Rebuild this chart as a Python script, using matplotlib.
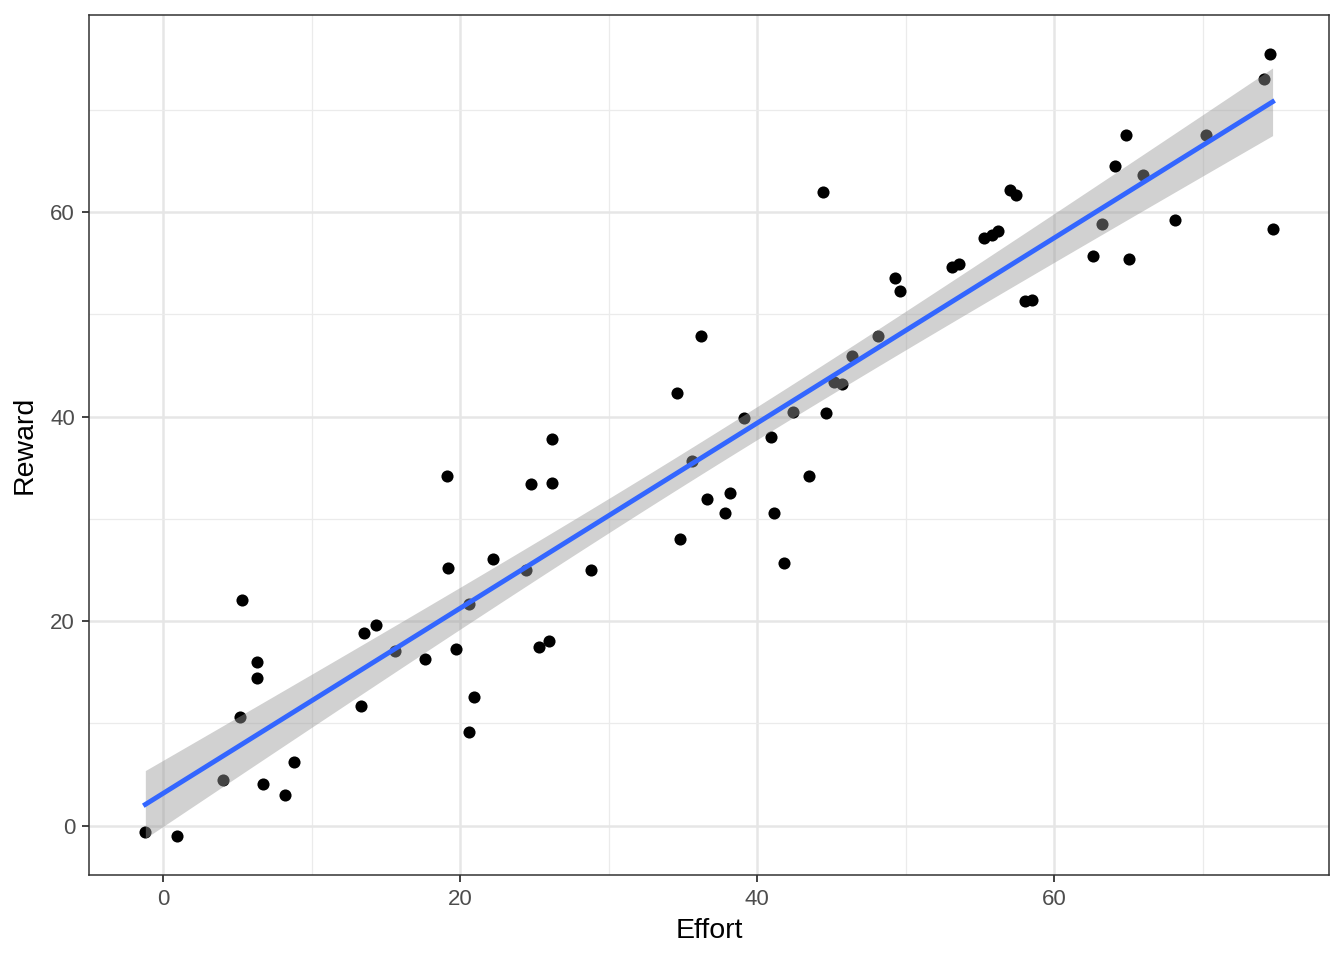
import numpy as np
import matplotlib
matplotlib.use("Agg")
import matplotlib.pyplot as plt
from matplotlib.ticker import MultipleLocator

plt.rcParams['font.family'] = ['Liberation Sans', 'DejaVu Sans']

# values
effort = [-1.2, 0.9, 4.0, 5.2, 5.3, 6.3, 6.3, 6.7, 8.2, 8.8,
          13.3, 13.5, 14.3, 15.6, 17.6, 19.1, 19.2, 19.7, 20.6, 20.6,
          20.9, 22.2, 24.4, 24.8, 25.3, 26.0, 26.2, 26.2, 28.8, 34.6,
          34.8, 35.6, 36.2, 36.6, 37.8, 38.2, 39.1, 40.9, 41.1, 41.8,
          42.4, 43.5, 44.4, 44.6, 45.2, 45.7, 46.4, 48.1, 49.3, 49.6,
          53.1, 53.6, 55.3, 55.8, 56.2, 57.0, 57.4, 58.0, 58.5, 62.6,
          63.2, 64.1, 64.8, 65.0, 66.0, 68.1, 70.2, 74.1, 74.5, 74.7]
reward = [-0.6, -1.0, 4.5, 10.6, 22.1, 16.0, 14.4, 4.1, 3.0, 6.2,
          11.7, 18.8, 19.6, 17.1, 16.3, 34.2, 25.2, 17.3, 21.7, 9.2,
          12.6, 26.1, 25.0, 33.4, 17.5, 18.1, 37.8, 33.5, 25.0, 42.3,
          28.0, 35.7, 47.9, 31.9, 30.6, 32.5, 39.9, 38.0, 30.6, 25.7,
          40.4, 34.2, 62.0, 40.3, 43.4, 43.2, 45.9, 47.9, 53.5, 52.3,
          54.6, 54.9, 57.5, 57.7, 58.1, 62.1, 61.7, 51.3, 51.4, 55.7,
          58.8, 64.5, 67.5, 55.4, 63.6, 59.2, 67.5, 73.0, 75.4, 58.3]

x = np.array(effort)
y = np.array(reward)

# linear fit with 95% confidence band (like geom_smooth(method="lm"))
n = len(x)
slope, intercept = np.polyfit(x, y, 1)
resid = y - (intercept + slope * x)
s = np.sqrt(np.sum(resid ** 2) / (n - 2))
t_val = 1.994  # t quantile 0.975, df = 70
xs = np.linspace(x.min(), x.max(), 80)
ys = intercept + slope * xs
se = s * np.sqrt(1 / n + (xs - x.mean()) ** 2 / np.sum((x - x.mean()) ** 2))

fig = plt.figure(figsize=(13.44, 9.6), dpi=100)
ax = fig.add_axes([0.0662, 0.0885, 0.9226, 0.8955])

ax.scatter(x, y, s=76, color='black', linewidths=0, zorder=3)
ax.fill_between(xs, ys - t_val * se, ys + t_val * se, color='#999999', alpha=0.45, linewidth=0, zorder=4)
ax.plot(xs, ys, color='#3366FF', linewidth=3.5, zorder=5)

# ggplot style 5% expansion
xr = x.max() - x.min()
yr = y.max() - y.min()
ax.set_xlim(x.min() - 0.05 * xr, x.max() + 0.05 * xr)
ax.set_ylim(y.min() - 0.05 * yr, y.max() + 0.05 * yr)

ax.xaxis.set_major_locator(MultipleLocator(20))
ax.yaxis.set_major_locator(MultipleLocator(20))
ax.xaxis.set_minor_locator(MultipleLocator(10))
ax.yaxis.set_minor_locator(MultipleLocator(10))
ax.grid(which='major', color='#E6E6E6', linewidth=1.8, zorder=0)
ax.grid(which='minor', color='#EBEBEB', linewidth=0.9, zorder=0)
ax.set_axisbelow(True)

for sp in ax.spines.values():
    sp.set_color('#333333')
    sp.set_linewidth(1.1)
ax.tick_params(which='major', length=5, width=1.3, color='#333333',
               labelcolor='#4D4D4D', labelsize=16, pad=5)
ax.tick_params(which='minor', length=0)

ax.set_xlabel('Effort', fontsize=20.5, color='black', labelpad=6)
ax.set_ylabel('Reward', fontsize=20.5, color='black', labelpad=9)

fig.savefig('out.png', dpi=100)
